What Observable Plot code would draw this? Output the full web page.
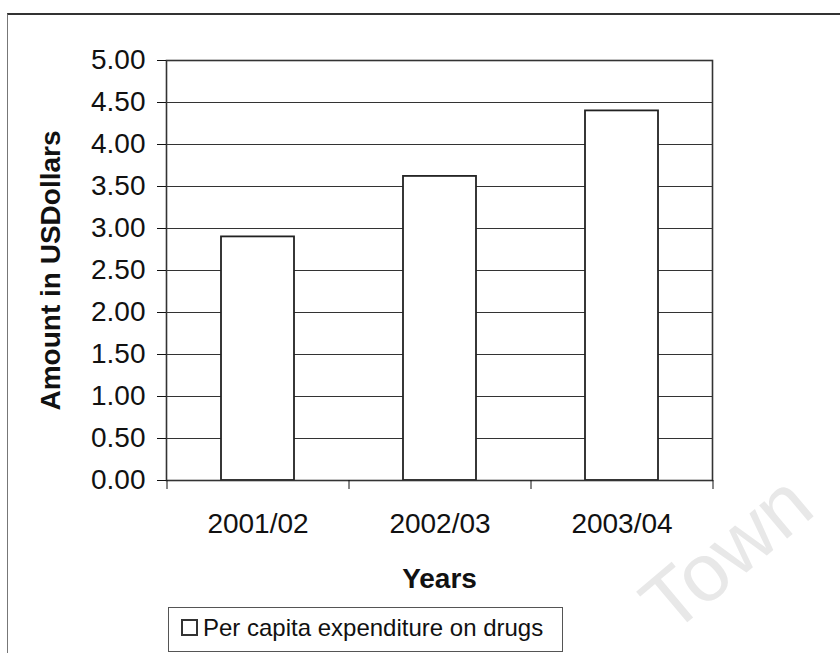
<!DOCTYPE html>
<html>
<head>
<meta charset="utf-8">
<script src="https://cdn.jsdelivr.net/npm/d3@7"></script>
<script src="https://cdn.jsdelivr.net/npm/@observablehq/plot@0.6"></script>
<style>
  html, body { margin: 0; padding: 0; background: #fff; }
  #wrap { position: relative; width: 840px; height: 653px; overflow: hidden;
          font-family: "Liberation Sans", Arial, sans-serif; background: #fff; }
  #border { position: absolute; left: 7px; top: 13px; width: 900px; height: 700px;
            border-left: 1px solid #777; border-top: 2px solid #333; }
  #wm { position: absolute; left: 0; top: 0; }
  #chart { position: absolute; left: 0; top: 0; }
  #chart [aria-label$="axis label"], #chart [aria-label$="axis label"] text { font-weight: 700; }
  #legend { position: absolute; left: 168px; top: 607px; width: 395px; height: 45px;
            box-sizing: border-box; border: 1px solid #555; background: #fff; }
  #legend .sw { position: absolute; left: 12px; top: 11px; width: 17px; height: 17px;
                box-sizing: border-box; border: 2px solid #333; background: #fff; }
  #legend .lt { position: absolute; left: 34px; top: 7px; font-size: 24px; line-height: 26px; color: #111; white-space: nowrap; }
</style>
</head>
<body>
<div id="wrap">
  <div id="border"></div>
  <svg id="wm" width="840" height="653">
    <text x="671" y="636" transform="rotate(-40 671 636)" font-family="Liberation Sans, Arial, sans-serif"
          font-size="82" fill="#e8e8e8">Town</text>
  </svg>
  <div id="chart"></div>
  <div id="legend"><span class="sw"></span><span class="lt" id="legendText"></span></div>
</div>
<script>
// ---- data ----
const years = ["2001/02", "2002/03", "2003/04"];
const expenditure = [2.90, 3.62, 4.40];
const yTicks = [0, 0.5, 1, 1.5, 2, 2.5, 3, 3.5, 4, 4.5, 5];
const seriesName = "Per capita expenditure on drugs";
const yTitle = "Amount in USDollars";
const xTitle = "Years";

const data = years.map((year, i) => ({ year, value: expenditure[i] }));

const W = 840, H = 600;
const mL = 166, mR = 128, mT = 60, mB = 120;
const step = (W - mL - mR) / years.length;

const chart = Plot.plot({
  width: W,
  height: H,
  marginLeft: mL,
  marginRight: mR,
  marginTop: mT,
  marginBottom: mB,
  style: { fontFamily: '"Liberation Sans", Arial, sans-serif', fontSize: "28px", color: "#111", background: "transparent", overflow: "visible" },
  x: { type: "band", domain: years, paddingInner: 0.6, paddingOuter: 0.3 },
  y: { domain: [0, 5] },
  marks: [
    Plot.gridY(yTicks, { stroke: "#333", strokeOpacity: 1, strokeWidth: 1.1 }),
    Plot.barY(data, { x: "year", y: "value", fill: "white", stroke: "#222", strokeWidth: 1.8 }),
    Plot.frame({ stroke: "#333", strokeWidth: 1.6 }),
    Plot.axisY(yTicks, {
      tickFormat: d3.format(".2f"), tickSize: 9, tickPadding: 12, fontSize: 28,
      label: yTitle, labelAnchor: "center", labelOffset: 126, labelArrow: "none"
    }),
    Plot.axisX(years, {
      tickSize: 0, tickPadding: 33, fontSize: 28,
      label: xTitle, labelAnchor: "center", labelOffset: 107, labelArrow: "none"
    }),
    Plot.axisX(years, { tickSize: 9, tickFormat: () => "", dx: -step / 2, label: null }),
    Plot.axisX([years[years.length - 1]], { tickSize: 9, tickFormat: () => "", dx: step / 2, label: null })
  ]
});
document.getElementById("chart").appendChild(chart);
document.getElementById("legendText").textContent = seriesName;
</script>
</body>
</html>
